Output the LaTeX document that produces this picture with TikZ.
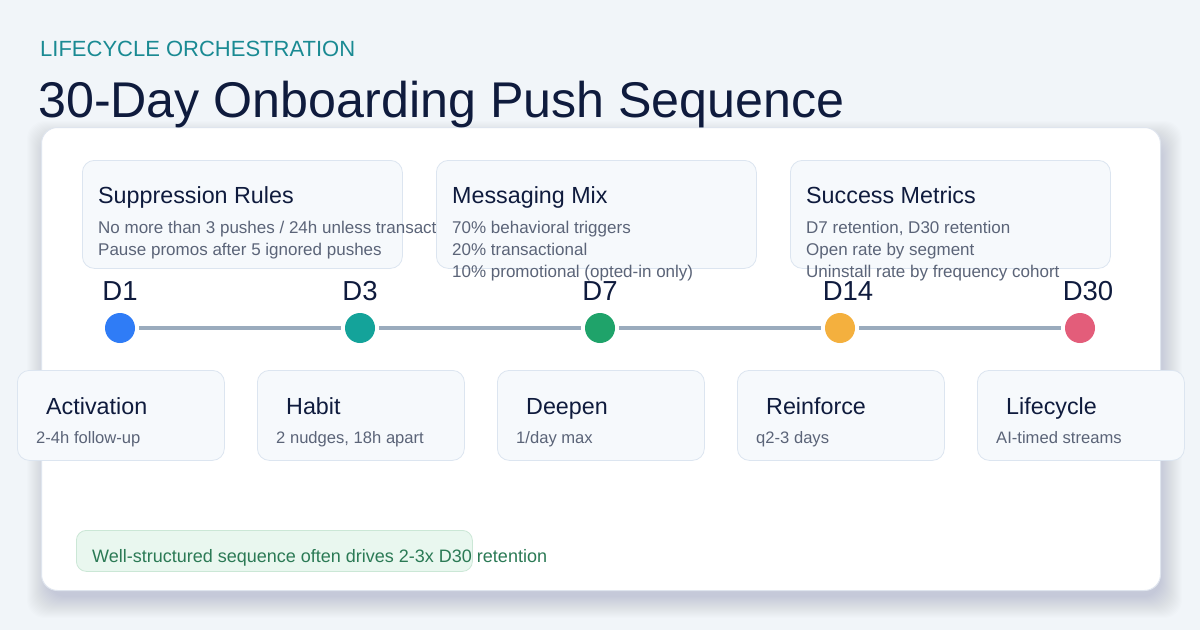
\documentclass[tikz,border=0pt]{standalone}
\usepackage{fontspec}
\setmainfont{Liberation Sans}
\definecolor{bgc}{HTML}{F1F5F9}
\definecolor{cardline}{HTML}{DFE5EE}
\definecolor{boxfill}{HTML}{F6F9FC}
\definecolor{boxline}{HTML}{DCE5F0}
\definecolor{navy}{HTML}{0F1B3D}
\definecolor{slate}{HTML}{5B6478}
\definecolor{kicker}{HTML}{1A8A93}
\definecolor{tline}{HTML}{9AABBD}
\definecolor{cA}{HTML}{2F7CF6}
\definecolor{cB}{HTML}{14A39A}
\definecolor{cC}{HTML}{1FA36A}
\definecolor{cD}{HTML}{F4B03E}
\definecolor{cE}{HTML}{E35D7A}
\definecolor{notefill}{HTML}{E9F7EF}
\definecolor{noteline}{HTML}{CBE7D6}
\definecolor{notetext}{HTML}{2B7A55}
\definecolor{shadowc}{HTML}{2A3F66}
\begin{document}
\begin{tikzpicture}[x=1pt,y=-1pt,
  card/.style={draw=cardline,line width=1pt,fill=white,rounded corners=16pt,inner sep=0,minimum width=1119pt,minimum height=463pt,anchor=north west},
  topbox/.style={draw=boxline,line width=0.8pt,fill=boxfill,rounded corners=12pt,inner sep=0,minimum width=320pt,minimum height=108pt,anchor=north west},
  phbox/.style={draw=boxline,line width=0.8pt,fill=boxfill,rounded corners=12pt,inner sep=0,minimum width=207pt,minimum height=90pt,anchor=north west},
  ttl/.style={anchor=base west,inner sep=0,text=navy,font=\fontsize{23.3}{27}\selectfont},
  body/.style={anchor=base west,inner sep=0,text=slate,font=\fontsize{17}{20}\selectfont},
  sub/.style={anchor=base west,inner sep=0,text=slate,font=\fontsize{16.6}{20}\selectfont},
  day/.style={anchor=base,inner sep=0,text=navy,font=\fontsize{27.5}{32}\selectfont},
  dot/.style={circle,inner sep=0,minimum size=30pt,outer sep=4pt},
  tl/.style={draw=tline,line width=4pt}
]
\useasboundingbox (0,0) rectangle (1200,630);
\fill[bgc] (0,0) rectangle (1200,630);
% shadow
\foreach \i in {1,...,22}{
  \fill[shadowc,opacity=0.0065,rounded corners=18pt] (41-\i+8,127-\i+16) rectangle (1160+\i,590+\i+6);
}
\node[card] (card) at (41,127) {};
% header
\node[anchor=base west,inner sep=0,text=kicker,font=\fontsize{22}{26}\selectfont] (kick) at (40,56) {LIFECYCLE ORCHESTRATION};
\node[anchor=base west,inner sep=0,text=navy,font=\fontsize{50.2}{58}\selectfont] (title) at (38,117) {30-Day Onboarding Push Sequence};
% top boxes
\node[topbox] (sup) at (82,160) {};
\node[ttl] (supT) at (98,203) {Suppression Rules};
\node[body] (supA) at (98,233) {No more than 3 pushes / 24h unless transactional};
\node[body] (supB) at (98,255) {Pause promos after 5 ignored pushes};
\node[topbox] (mix) at (436,160) {};
\node[ttl] (mixT) at (452,203) {Messaging Mix};
\node[body] (mixA) at (452,233) {70\% behavioral triggers};
\node[body] (mixB) at (452,255) {20\% transactional};
\node[body] (mixC) at (452,277) {10\% promotional (opted-in only)};
\node[topbox] (met) at (790,160) {};
\node[ttl] (metT) at (806,203) {Success Metrics};
\node[body] (metA) at (806,233) {D7 retention, D30 retention};
\node[body] (metB) at (806,255) {Open rate by segment};
\node[body] (metC) at (806,277) {Uninstall rate by frequency cohort};
% timeline
\node[dot,fill=cA] (d1) at (120,328) {};
\node[dot,fill=cB] (d3) at (360,328) {};
\node[dot,fill=cC] (d7) at (600,328) {};
\node[dot,fill=cD] (d14) at (840,328) {};
\node[dot,fill=cE] (d30) at (1080,328) {};
\draw[tl] (d1) -- (d3);
\draw[tl] (d3) -- (d7);
\draw[tl] (d7) -- (d14);
\draw[tl] (d14) -- (d30);
\node[day] (l1) at (120,300) {D1};
\node[day] (l3) at (360,300) {D3};
\node[day] (l7) at (600,300) {D7};
\node[day] (l14) at (848,300) {D14};
\node[day] (l30) at (1088,300) {D30};
% phase boxes
\node[phbox] (p1) at (17,370) {};
\node[ttl] (p1T) at (46,414) {Activation};
\node[sub] (p1S) at (36,443) {2-4h follow-up};
\node[phbox] (p2) at (257,370) {};
\node[ttl] (p2T) at (286,414) {Habit};
\node[sub] (p2S) at (276,443) {2 nudges, 18h apart};
\node[phbox] (p3) at (497,370) {};
\node[ttl] (p3T) at (526,414) {Deepen};
\node[sub] (p3S) at (516,443) {1/day max};
\node[phbox] (p4) at (737,370) {};
\node[ttl] (p4T) at (766,414) {Reinforce};
\node[sub] (p4S) at (756,443) {q2-3 days};
\node[phbox] (p5) at (977,370) {};
\node[ttl] (p5T) at (1006,414) {Lifecycle};
\node[sub] (p5S) at (996,443) {AI-timed streams};
% note
\node[draw=noteline,line width=0.8pt,fill=notefill,rounded corners=10pt,inner sep=0,minimum width=396pt,minimum height=41pt,anchor=north west] (note) at (76,530) {};
\node[anchor=base west,inner sep=0,text=notetext,font=\fontsize{18}{22}\selectfont] (noteT) at (92,562) {Well-structured sequence often drives 2-3x D30 retention};
\end{tikzpicture}
\end{document}
